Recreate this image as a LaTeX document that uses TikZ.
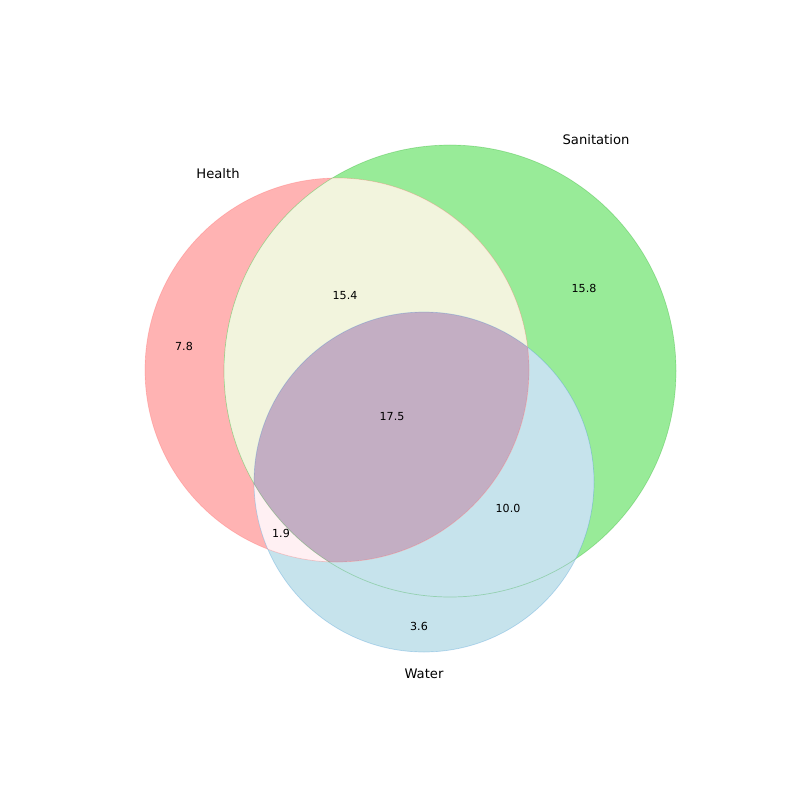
\documentclass[tikz,border=0pt]{standalone}
\usepackage{fontspec}
\setmainfont{DejaVu Sans}
\definecolor{healthc}{RGB}{255,179,179}
\definecolor{sanic}{RGB}{152,235,152}
\definecolor{waterc}{RGB}{198,227,236}
\definecolor{hsc}{RGB}{242,244,221}
\definecolor{hwc}{RGB}{255,240,243}
\definecolor{allc}{RGB}{195,174,195}
\tikzset{
  setname/.style={font=\fontsize{9.5}{11}\selectfont, text=black},
  setsize/.style={font=\fontsize{8}{10}\selectfont, text=black},
  rim/.style={line width=0.5pt, draw opacity=0.25}
}
\begin{document}
\begin{tikzpicture}[x=0.01in,y=-0.01in]
\useasboundingbox (0,0) rectangle (800,800);

%CIRCLES
\coordinate (H) at (337,370);
\coordinate (S) at (450,371);
\coordinate (W) at (424,482);
\def\rh{192}
\def\rs{226}
\def\rw{170}

%REGIONS
\fill[healthc] (H) circle (\rh);
\fill[sanic] (S) circle (\rs);
\fill[waterc] (W) circle (\rw);
% health and sanitation
\begin{scope}
\clip (H) circle (\rh);
\fill[hsc] (S) circle (\rs);
\end{scope}
% health and water
\begin{scope}
\clip (H) circle (\rh);
\fill[hwc] (W) circle (\rw);
\end{scope}
% all three
\begin{scope}
\clip (H) circle (\rh);
\clip (S) circle (\rs);
\fill[allc] (W) circle (\rw);
\end{scope}

%EDGES
\draw[rim, draw=red!70] (H) circle (\rh);
\draw[rim, draw=green!60!black] (S) circle (\rs);
\draw[rim, draw=cyan!60!blue] (W) circle (\rw);

%LABELS
\node[setname] (health) at (218,174) {Health};
\node[setname] (sanitation) at (596,140) {Sanitation};
\node[setname] (water) at (424,674) {Water};

\node[setsize] (h) at (184,346) {7.8};
\node[setsize] (hs) at (345,296) {15.4};
\node[setsize] (s) at (584,288) {15.8};
\node[setsize] (hsw) at (392,417) {17.5};
\node[setsize] (sw) at (508,508) {10.0};
\node[setsize] (hw) at (281,533) {1.9};
\node[setsize] (w) at (419,626) {3.6};

\end{tikzpicture}
\end{document}
